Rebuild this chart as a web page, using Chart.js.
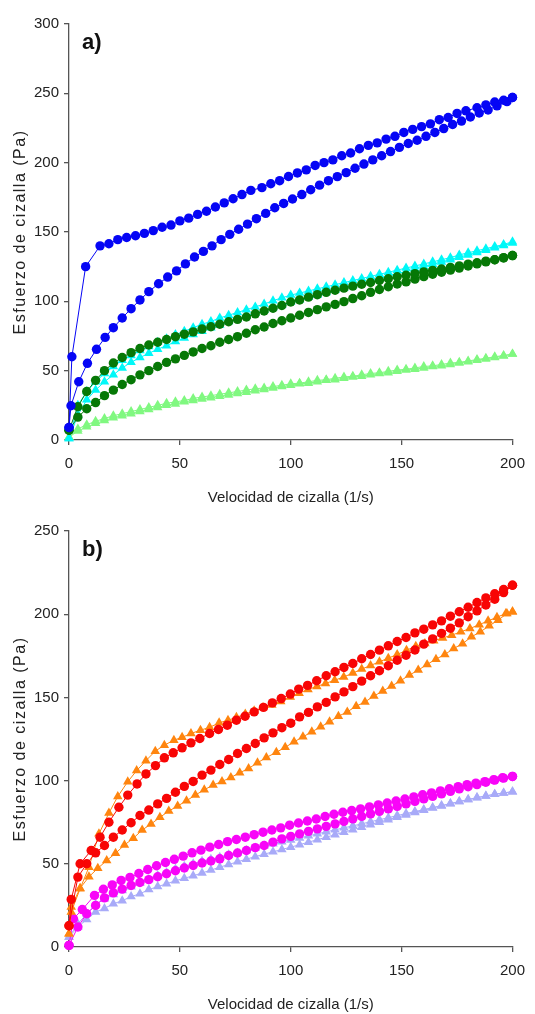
<!DOCTYPE html>
<html>
<head>
<meta charset="utf-8">
<script src="https://cdn.jsdelivr.net/npm/chart.js@4.4.1/dist/chart.umd.min.js"></script>
<style>
  body { margin: 0; background: #ffffff; }
  canvas { display: block; }
</style>
</head>
<body>
<canvas id="graficoA" width="535" height="507"></canvas>
<canvas id="graficoB" width="535" height="507"></canvas>
<script>
// Curvas de flujo (ida y vuelta) - esfuerzo de cizalla vs velocidad de cizalla

// velocidad de cizalla común (1/s)
var rate4 = [0,4,8,12,16,20,24,28,32,36,40,44,48,52,56,60,64,68,72,76,80,84,88,92,96,100,104,108,112,116,120,124,128,132,136,140,144,148,152,156,160,164,168,172,176,180,184,188,192,196,200];

// ---- panel a) ----
var blueUpRate = [0,1.3,7.5,14,18,22,26,30,34,38,42,46,50,54,58,62,66,70,74,78,82,87,91,95,99,103,107,111,115,119,123,127,131,135,139,143,147,151,155,159,163,167,171,175,179,184,188,192,196,200];
var blueUp = [9,60,125,140,141.5,144.5,146,147.3,149,151,153.4,155,158,160,162.7,165,168,171,174,177,180,182,184.8,187,190,192.6,194.8,198,200,202,205,207,210,212.5,214.3,217,219,221.8,224,226,228,231,232.6,235.5,237.4,239.6,241.7,243.7,245,247];
var blueDownRate = [0,0.9,4.4,8.3,12.4,16.3,20,24,28,32,36,40.4,44.5,48.5,52.5,56.6,60.6,64.5,68.6,72.5,76.5,80.5,84.5,88.7,92.8,96.8,100.8,105,109,113,117,121,125,129,133,137,141,145,149,153,157,161,165,169,173,177,181,185,189,193,197.5,200];
var blueDown = [9,24.7,42,55.3,65.4,74,81,88,94.7,101,107,112.7,117.5,122,127,132,136,140,144.5,148.3,152,155.7,159.6,163.4,167.5,170.6,173.8,177,180.5,183.8,187,189.9,192.8,196,199,202,205,208,211,213.8,216.2,219,221.8,224.6,227.5,230,232.9,235.8,238,241,244,247];
var greenUp = [7,24,35,43,50,55.5,59.5,63,66,68.5,70.5,72.5,74.5,76.3,78,80,81.7,83.5,85.3,87,88.7,91,93,95,97,99.5,101,103,104.8,106.5,108,109.5,111,112.3,113.6,115,116.3,117.7,118.8,120,121.2,122.3,123.3,124.5,125.6,126.8,127.8,129,130,131.3,133];
var greenDown = [7,16.5,22.5,27,32,36,40,43.5,47,50,53,56,58.5,61,63.5,66,68,70.5,72.5,74.5,77,79.5,81.5,84,86,88,90,92,94,96,97.8,99.8,102,104,106.5,108.5,110.5,112.5,114,116,117.8,119.5,121,122.5,124,125.5,127,128.5,130,131.5,133];
var cyanUp = [1,25,35,42,48,53,57.5,61,64.5,67.5,70.5,73,76,78.5,81,83.5,85.5,88,90,92,94,96,98,100.5,102.5,104.5,106,107.5,109,110.5,112,113.5,115,116.5,118,119.5,121,122.5,124,125.5,127,128.5,130,131.5,133.5,135,136.5,138,139.5,141,143];
var cyanDown = [1,18,29,36,42,47,52,56,59.5,62.5,65.5,68,71,73.5,76,78.5,81,83,85.5,87.5,89.5,91.5,93.5,95.5,97.5,99.5,101.2,103,104.6,106.3,108,109.7,111.4,113,114.8,116.5,118.2,119.9,121.6,123.3,125,126.7,128.4,130,131.8,133.5,135.2,136.9,138.6,140.3,142];
var lightUp = [2,8,11,13.5,15.5,17.5,19,20.5,22,23.5,25,26.5,27.5,28.5,30,31,32,33,34,35,36,37,37.5,38.5,39.5,40.5,41,42,43,43.5,44.5,45.5,46,47,48,48.5,49.5,50.5,51,52,53,53.5,54.5,55.5,56,57,58,59,60,61,62];
var lightDown = [2,6.5,9.5,12,14,16,17.5,19,20.5,22,23.5,25,26,27.5,28.5,29.5,30.5,31.5,32.5,33.5,34.5,35.5,36.5,37.5,38.5,39.5,40.5,41,42,43,43.5,44.5,45.5,46,47,48,48.5,49.5,50.5,51,52,53,53.5,54.5,55.5,56.5,57.5,58.5,59.5,60.5,62];

// ---- panel b) ----
var redUpRate = [0,1,5,10,14,18,22.5,26.5,30.7,34.7,39,43,47,51,55,59,63.4,67.4,71.4,75.5,79.4,83.5,87.7,91.7,95.7,99.8,103.6,107.6,111.7,116,120,124,128,132,136,140,144,148,152,156,160,164,168,172,176,180,184,188,192,196,200];
var redUp = [12.8,28.6,50,58,66,75,84,91.3,98,104,109,113.7,116.7,119.7,122.7,125.3,128.3,130.7,133.3,136.3,138.7,141.3,144,146.7,149.3,152,155,157.2,160,163,165.4,168,170.4,173.2,175.8,178.4,181,183.6,186,188.8,191,193.6,196,198.8,201.5,204.2,207,209.8,212.3,214.8,217.4];
var redDown = [12.8,42,50,56.6,61,66,70.3,74.7,79,82.3,86,89.3,93,96.5,99.5,103.3,106.3,109.7,112.7,116.3,119.3,122.3,125.7,128.7,131.8,134.5,138.3,141,144.3,147,150.3,153.3,156.5,159.8,163,166,169,172.3,175.3,178.5,182,185.2,188.5,191.6,194.8,198.5,202,205.5,209,213,217.4];
var orangeUpRate = [0,1,5,9,13.5,18,22,26.5,30.5,34.7,38.9,43,47.3,51,55,59.3,63.4,67.7,71.7,75.5,79.5,83.5,87.5,91.5,95.5,99.8,103.8,107.8,111.8,115.7,119.8,123.9,128,132,136,140,144,148,152.2,156.4,160.5,164.5,168.5,172.6,176.7,180.8,185,189,193,197,200];
var orangeUp = [8,21,35,48,68,80.5,90.5,99.3,106,112,117.7,121.3,124.3,126,128.3,130.3,132,134.7,136.3,138,140,142,144,145.5,147.5,150.3,152.5,154.8,156.6,158.4,160.3,162.3,164.6,167,169.2,171.4,173.6,175.8,178.3,180.8,182.4,184,185.7,187.4,189.4,191.4,193.7,196,198.2,200.4,201.5];
var orangeDownRate = [0,1,5,9,13,17,21,25,29,33,37,41,45,49,53,57,61,65,69,73,77,81,85,89,93.5,97.5,101.5,105.5,109.5,113.5,117.5,121.5,125.5,129.5,133.5,137.5,141.5,145.5,149.5,153.5,157.5,161.5,165.5,169.5,173.5,177.5,181.5,185.5,189.5,193.5,197.5,200];
var orangeDown = [8,24,35.3,42.2,47.3,52,56.3,61.3,65.3,70.3,73.9,77.9,81.7,84.7,87.9,91.3,94.5,97.3,99.5,101.9,104.7,107.3,110.7,113.9,117,120,123.3,126.3,129.3,132.3,135.3,138.7,141.3,144.7,147.3,150.8,153.8,156.8,160,163.4,166.4,169.8,173,175.8,179.4,182.3,186.4,189.4,193,196.4,200.4,201.5];
var magUpRate = [0,2,6,11.5,15.5,19.5,23.5,27.5,31.5,35.5,39.5,43.5,47.5,51.5,55.5,59.5,63.5,67.5,71.5,75.5,79.5,83.5,87.5,91.5,95.5,99.5,103.5,107.5,111.5,115.5,119.5,123.5,127.5,131.5,135.5,139.5,143.5,147.5,151.5,155.5,159.5,163.5,167.5,171.5,175.5,179.5,183.5,187.5,191.5,195.5,200];
var magUp = [1,17,22.5,31,34.7,37.3,40,41.8,44.2,46.6,48.8,50.8,52.7,54.6,56.6,58.2,60,61.6,63.3,64.6,66,67.5,69,70.3,71.6,73.2,74.5,75.7,76.9,78.4,79.8,81,82,83,84.2,85.4,86.5,87.7,88.9,90.2,91.5,92.6,93.8,95.1,96.4,97.6,98.5,99.4,100.5,101.7,102.5];
var magDown = [1,12,20,25,29.5,32.5,34.8,37,38.8,40.5,42.2,44,45.8,47.5,49,50.5,51.7,53,55,56.5,58,59.7,61,63,65,66.5,68,69.5,71,72.5,74,75.5,77,78.5,80,81.5,83,84.5,86,87.5,89,90.5,92,93.5,95,96.3,97.6,99,100.3,101.5,102.5];
var lavUp = [6,14,20,25.5,29,31.5,34,36.2,38.5,40.5,43,44.8,46.8,48.5,50,51.5,52.7,54,55.5,56.5,58,59.5,60.8,62,63.2,64.3,65.5,66.8,68,69.2,70.4,71.6,72.8,74,75.3,76.5,77.7,79,80.2,81.4,82.6,83.8,85,86.2,87.4,88.6,89.7,90.8,91.8,92.6,93.3];
var lavDown = [6,12,16.6,21,23.2,26,27.8,30.3,32,34.5,36.3,38,39.8,41.3,42.8,44.5,46.2,48,49.6,51.2,52.8,54.3,55.8,57.2,58.6,60,61.5,63,64.5,66,67.5,69,70.5,72,73.5,75,76.5,78,79.4,80.8,82.2,83.5,84.8,86.1,87.4,88.6,89.8,90.8,91.8,92.6,93.3];

var xTicks = [0, 50, 100, 150, 200];
var narrow = "'Liberation Sans Narrow', 'Arial Narrow', 'Liberation Sans', sans-serif";

function puntos(xs, ys) {
    return xs.map(function(x, i) { return { x: x, y: ys[i] }; });
}

function serie(xs, ys, color, forma) {
    return {
        data: puntos(xs, ys),
        borderColor: color,
        backgroundColor: color,
        borderWidth: 1,
        pointStyle: forma,
        pointRadius: forma === "triangle" ? 5.5 : 4.7,
        pointBorderWidth: 0,
        clip: false
    };
}

// el título del eje Y va con letras espaciadas
var tituloEspaciado = {
    id: "tituloEspaciado",
    afterUpdate: function(chart) {
        var s = chart.scales.y;
        if (s && !s._espaciado) {
            var original = s.drawTitle;
            s.drawTitle = function() {
                var c = this.ctx;
                c.save();
                c.letterSpacing = "1.5px";
                original.apply(this, arguments);
                c.restore();
            };
            s._espaciado = true;
        }
    }
};

// etiqueta del panel: a) / b)
var etiquetaPanel = {
    id: "etiquetaPanel",
    afterDraw: function(chart, args, opts) {
        var c = chart.ctx;
        c.save();
        c.font = "bold 22px " + narrow;
        c.fillStyle = "#111";
        c.textBaseline = "alphabetic";
        c.fillText(opts.texto, chart.chartArea.left + 13, chart.chartArea.top + 25);
        c.restore();
    }
};

function opciones(yMax, texto) {
    return {
        responsive: false,
        animation: false,
        devicePixelRatio: 1,
        events: [],
        layout: { padding: { left: 0, right: 15, top: 24, bottom: 0 } },
        plugins: {
            legend: { display: false },
            tooltip: { enabled: false },
            etiquetaPanel: { texto: texto }
        },
        scales: {
            x: {
                type: "linear", min: 0, max: 200,
                afterBuildTicks: function(s) { s.ticks = xTicks.map(function(v) { return { value: v }; }); },
                ticks: { font: { family: narrow, size: 15 }, color: "#222", padding: 10, maxRotation: 0 },
                grid: { drawOnChartArea: false, tickLength: 5, color: "#555", lineWidth: 1.3 },
                border: { color: "#555", width: 1.3 },
                title: { display: true, text: "Velocidad de cizalla (1/s)", color: "#222",
                         font: { family: narrow, size: 15 }, padding: { top: 0, bottom: 0 } },
                afterFit: function(s) { s.height = 67; }
            },
            y: {
                min: 0, max: yMax,
                ticks: { stepSize: 50, font: { family: narrow, size: 15 }, color: "#222", padding: 5 },
                grid: { drawOnChartArea: false, tickLength: 5, color: "#555", lineWidth: 1.3 },
                border: { color: "#555", width: 1.3 },
                title: { display: true, text: "Esfuerzo de cizalla (Pa)", color: "#222",
                         font: { family: "'Liberation Sans', Arial, sans-serif", size: 16 }, padding: { top: 11, bottom: 0 } },
                afterFit: function(s) { s.width = 69; }
            }
        }
    };
}

new Chart(document.getElementById("graficoA"), {
    type: "line",
    data: {
        datasets: [
            serie(blueUpRate, blueUp, "#0505f5", "circle"),
            serie(blueDownRate, blueDown, "#0505f5", "circle"),
            serie(rate4, greenUp, "#067806", "circle"),
            serie(rate4, greenDown, "#067806", "circle"),
            serie(rate4, cyanUp, "#00f8f8", "triangle"),
            serie(rate4, cyanDown, "#00f8f8", "triangle"),
            serie(rate4, lightUp, "#80f880", "triangle"),
            serie(rate4, lightDown, "#80f880", "triangle")
        ]
    },
    options: opciones(300, "a)"),
    plugins: [tituloEspaciado, etiquetaPanel]
});

new Chart(document.getElementById("graficoB"), {
    type: "line",
    data: {
        datasets: [
            serie(redUpRate, redUp, "#f80505", "circle"),
            serie(rate4, redDown, "#f80505", "circle"),
            serie(orangeUpRate, orangeUp, "#ff850f", "triangle"),
            serie(orangeDownRate, orangeDown, "#ff850f", "triangle"),
            serie(magUpRate, magUp, "#f805f8", "circle"),
            serie(rate4, magDown, "#f805f8", "circle"),
            serie(rate4, lavUp, "#a8aaf8", "triangle"),
            serie(rate4, lavDown, "#a8aaf8", "triangle")
        ]
    },
    options: opciones(250, "b)"),
    plugins: [tituloEspaciado, etiquetaPanel]
});
</script>
</body>
</html>
